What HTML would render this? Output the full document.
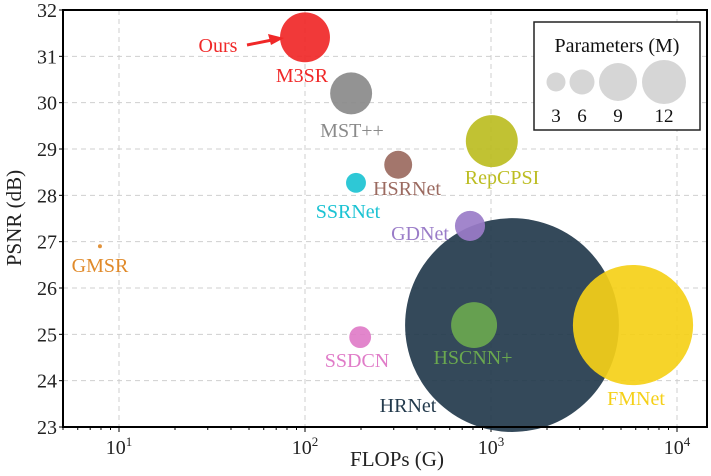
<!DOCTYPE html>
<html><head><meta charset="utf-8"><style>
html,body{margin:0;padding:0;background:#fff;}
svg text{font-family:"Liberation Serif",serif;}
</style></head><body>
<svg id="chart" width="711" height="471" viewBox="0 0 711 471"></svg>
<script>
const names=["Ours","MST++","HSRNet","RepCPSI","SSRNet","GDNet","GMSR","HRNet","HSCNN+","SSDCN","FMNet"];
const flops=[100,177,317,1010,188,771,7.9,1297,811,198,5800];
const psnr=[31.41,30.2,28.66,29.17,28.27,27.34,26.9,25.2,25.2,24.94,25.2];
const params=[15.7,11.1,4.9,17,2.5,5.7,0.1,288,13.3,3.0,91];
const colors=["#f02828","#8a8a8a","#9b6a60","#bcbd22","#1cc3d3","#9a7cc8","#e08a2a","#233a4c","#6aa84f","#e07cc8","#f5d018"];
const labelText=["M3SR","MST++","HSRNet","RepCPSI","SSRNet","GDNet","GMSR","HRNet","HSCNN+","SSDCN","FMNet"];
const yTicks=[23,24,25,26,27,28,29,30,31,32];
const xTicks=[1,2,3,4];
const legendVals=[3,6,9,12];

const L=63,R=707,T=10,B=427;
const x=v=>119+(Math.log10(v)-1)*186;
const y=v=>B-(v-23)*(B-T)/9;
const rad=p=>6.3*Math.sqrt(p);
const svg=document.getElementById('chart');
const NS="http://www.w3.org/2000/svg";
function mk(tag,attrs,parent){const e=document.createElementNS(NS,tag);for(const k in attrs)e.setAttribute(k,attrs[k]);(parent||svg).appendChild(e);return e;}

yTicks.forEach(t=>{const l=mk('line',{x1:L,x2:R,y1:y(t),y2:y(t),stroke:'#cfcfcf','stroke-dasharray':'5,4'});


const tx=mk('text',{x:L-6,y:y(t)+7,'text-anchor':'end','font-size':20,fill:'#222'});tx.textContent=t;


mk('line',{x1:L-4,x2:L,y1:y(t),y2:y(t),stroke:'#000'});});
xTicks.forEach(t=>{const px=x(Math.pow(10,t));
const l=mk('line',{x1:px,x2:px,y1:T,y2:B,stroke:'#cfcfcf','stroke-dasharray':'5,4'});


mk('line',{x1:px,x2:px,y1:B,y2:B+5,stroke:'#000'});
const tx=mk('text',{x:px,y:B+27,'text-anchor':'middle','font-size':20,fill:'#222'});
tx.innerHTML='10<tspan font-size="13" dy="-8">'+t+'</tspan>';

});
for(let d=0;d<=4;d++)for(let m=2;m<=9;m++){const v=m*Math.pow(10,d);const px=x(v);if(px>L&&px<R)mk('line',{x1:px,x2:px,y1:B,y2:B+3,stroke:'#000'});}

const order=names.map((_,i)=>i).sort((a,b)=>params[b]-params[a]);
order.forEach(i=>{const c=mk('circle',{cx:x(flops[i]),cy:y(psnr[i]),r:Math.max(rad(params[i]),1.8),fill:colors[i],'fill-opacity':0.92});

});

const lab=[[302,82],[352,137],[407,195],[502,184],[348,218],[420,240],[100,272],[408,412],[473,364],[357,367],[636,405]];
labelText.forEach((s,i)=>{const t=mk('text',{x:lab[i][0],y:lab[i][1],'text-anchor':'middle','font-size':20,fill:colors[i]});t.textContent=s;

});
const ours=mk('text',{x:218,y:52,'text-anchor':'middle','font-size':20,fill:colors[0]});ours.textContent='Ours';


mk('line',{x1:247,y1:45,x2:272,y2:40,stroke:colors[0],'stroke-width':3});
mk('polygon',{points:'284,38 268,34 271,45',fill:colors[0]});

const f=mk('rect',{x:L,y:T,width:R-L,height:B-T,fill:'none',stroke:'#000','stroke-width':2});



const lg=mk('g',{});


mk('rect',{x:534,y:22,width:166,height:108,fill:'#fff',stroke:'#222','stroke-width':1.5},lg);
const lt=mk('text',{x:617,y:52,'text-anchor':'middle','font-size':20,fill:'#111'},lg);lt.textContent='Parameters (M)';
const lx=[556,582,618,664],lr=[9.5,12.5,19,22];
legendVals.forEach((v,i)=>{const c=mk('circle',{cx:lx[i],cy:82,r:lr[i],fill:'#d6d6d6'},lg);


const t=mk('text',{x:lx[i],y:122,'text-anchor':'middle','font-size':19,fill:'#111'},lg);t.textContent=v;});

const xt=mk('text',{x:397,y:466,'text-anchor':'middle','font-size':21,fill:'#222'});xt.textContent='FLOPs (G)';


const yt=mk('text',{x:0,y:0,'text-anchor':'middle','font-size':21,fill:'#222',transform:'translate(21,218) rotate(-90)'});yt.textContent='PSNR (dB)';


</script>
</body></html>
